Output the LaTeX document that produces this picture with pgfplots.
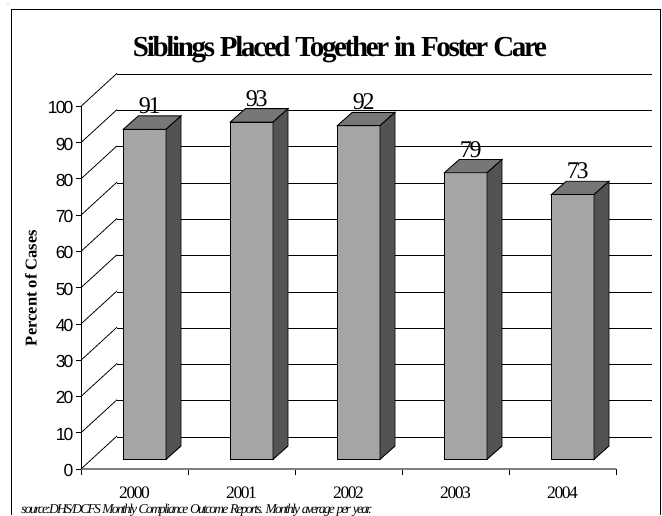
\documentclass[border=0pt]{standalone}
\usepackage{fontspec}
\setmainfont{Liberation Serif}
\newfontfamily\ticksans[LetterSpace=-10]{Liberation Sans}
\usepackage{pgfplots}
\usepackage{pgfplotstable}
\pgfplotsset{compat=1.18}

\definecolor{barfront}{HTML}{A5A5A5}
\definecolor{bartop}{HTML}{777777}
\definecolor{barside}{HTML}{535353}

% one unit of length here is one pixel of the reference
\pgfplotstableread{
x   val
0.5 91
1.5 93
2.5 92
3.5 79
4.5 73
}\siblings

\begin{document}
\begin{tikzpicture}[x=1pt,y=1pt]
\useasboundingbox (0,0) rectangle (662,515);

% back wall
\begin{axis}[
    at={(117pt,78pt)}, anchor=south west,
    scale only axis, width=535pt, height=362.7pt,
    xmin=0, xmax=5, ymin=0, ymax=100,
    ytick={0,10,...,100}, xtick=\empty,
    yticklabels={}, major tick length=0pt,
    ymajorgrids, grid style={black,line width=0.8pt},
    axis line style={draw=none},
]
\end{axis}

\begin{axis}[
    at={(81pt,46pt)}, anchor=south west,
    scale only axis, width=535pt, height=362.7pt,
    xmin=0, xmax=5, ymin=0, ymax=100,
    clip=false,
    axis x line=bottom, axis y line=left,
    x axis line style={-,color=gray,line width=1.5pt},
    y axis line style={-,black,line width=0.8pt},
    tick align=outside,
    xtick={0.5,1.5,2.5,3.5,4.5},
    xticklabels={2000,2001,2002,2003,2004},
    minor xtick={0,1,2,3,4,5},
    ytick={0,10,...,100},
    major tick length=5pt, minor tick length=6pt,
    major x tick style={draw=none},
    minor x tick style={black,line width=0.8pt},
    major y tick style={black,line width=0.8pt},
    /pgf/number format/assume math mode=true,
    yticklabel style={font=\ticksans\fontsize{17.5}{18}\selectfont, xshift=1pt, yshift=-1.5pt},
    xticklabel style={font=\fontsize{17.5}{18}\selectfont\addfontfeature{LetterSpace=-8.5}, yshift=-9pt},
    title={Siblings Placed Together in Foster Care},
    title style={at={(axis description cs:0.484,1.14)}, anchor=center,
        font=\fontsize{29}{30}\selectfont\bfseries\addfontfeature{LetterSpace=-8}},
    ylabel={Percent of Cases},
    ylabel style={at={(axis description cs:-0.0935,0.499)}, anchor=center,
        font=\fontsize{16.5}{17}\selectfont\bfseries},
    xlabel={source:DHS/DCFS Monthly Compliance Outcome Reports. Monthly average per year.},
    xlabel style={at={(axis description cs:-0.112,-0.1135)}, anchor=west, inner sep=0pt,
        font=\fontsize{13.5}{14}\selectfont\itshape\addfontfeature{LetterSpace=-12.8}},
]
% floor and wall edges
\pgfplotsinvokeforeach{0,10,...,100}{
    \draw[black,line width=0.8pt] (axis cs:0,#1) -- ++(36pt,33pt);
}
% top and side faces
\addplot[only marks, scatter, mark=*, mark size=0pt,
    mark options={draw=none,fill=none},
    xshift=10.2pt, yshift=9.7pt,
    visualization depends on={y \as \val},
    scatter/@pre marker code/.code={%
        \pgfmathsetmacro\h{3.627*\val}%
        \path[fill=bartop,draw=black,line width=0.9pt]
            (-21.35pt,0pt) -- (21.35pt,0pt) -- (36.35pt,13.3pt) -- (-6.35pt,13.3pt) -- cycle;
        \path[fill=barside,draw=black,line width=0.9pt]
            (21.35pt,0pt) -- (36.35pt,13.3pt) -- (36.35pt,13.3pt-\h pt) -- (21.35pt,-\h pt) -- cycle;
    },
    scatter/@post marker code/.code={},
] table[x=x,y=val] {\siblings};
% front faces
\addplot[ybar, bar width=42.7pt, fill=barfront, draw=black, line width=0.9pt,
    xshift=10.2pt, yshift=9.7pt,
    nodes near coords={\pgfmathprintnumber[assume math mode=true]{\pgfplotspointmeta}},
    every node near coord/.append style={anchor=south, black, inner sep=0pt,
        xshift=5pt, yshift=15pt,
        font=\fontsize{24}{24}\selectfont\addfontfeature{LetterSpace=-10}},
] table[x=x,y=val] {\siblings};
\end{axis}

% frame, open at the bottom
\draw[black,line width=0.9pt] (11,0) -- (11,506) -- (660,506) -- (660,0);
\node[inner sep=0pt,font=\fontsize{6}{6}\selectfont] at (8,511) {.};
\end{tikzpicture}
\end{document}
